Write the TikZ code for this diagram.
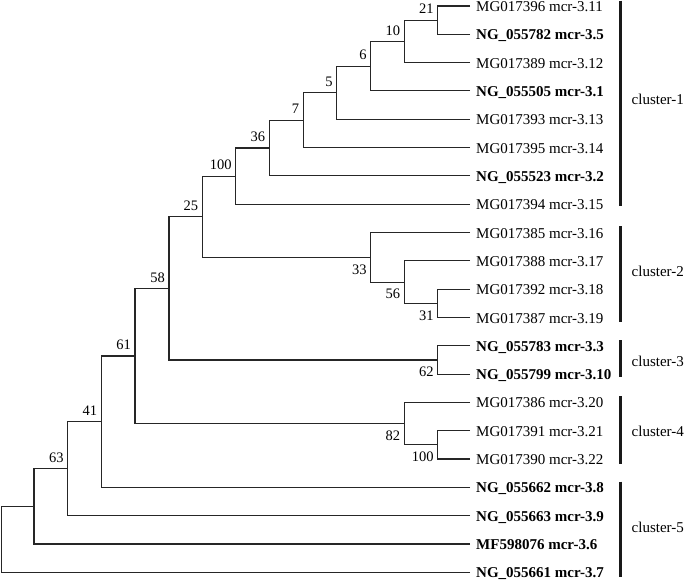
\documentclass[tikz,border=0pt]{standalone}
\usepackage{fontspec}
\setmainfont{Liberation Serif}
\begin{document}
\begin{tikzpicture}[x=1pt,y=-1pt,
  edge/.style={draw=black!85, line width=1.1pt},
  leaftext/.style={anchor=base west, inner sep=0pt, yshift=-5.5pt, font=\fontsize{15}{18}\selectfont},
  leafbold/.style={leaftext, font=\fontsize{15}{18}\selectfont\bfseries},
  bsabove/.style={anchor=base east, inner sep=0pt, xshift=-4pt, yshift=6.2pt, font=\fontsize{14.5}{17}\selectfont},
  bsbelow/.style={anchor=base east, inner sep=0pt, xshift=-4pt, yshift=-16.7pt, font=\fontsize{14.5}{17}\selectfont},
  clbar/.style={draw=black!90, line width=2.7pt},
  cltext/.style={anchor=base west, inner sep=0pt, font=\fontsize{15}{18}\selectfont}]
\useasboundingbox (0,0) rectangle (685,581);

% leaf ends
\coordinate (l1) at (470,6);
\coordinate (l2) at (470,34.3);
\coordinate (l3) at (470,62.6);
\coordinate (l4) at (470,90.9);
\coordinate (l5) at (470,119.3);
\coordinate (l6) at (470,147.6);
\coordinate (l7) at (470,175.9);
\coordinate (l8) at (470,204.2);
\coordinate (l9) at (470,232.5);
\coordinate (l10) at (470,260.8);
\coordinate (l11) at (470,289.2);
\coordinate (l12) at (470,317.5);
\coordinate (l13) at (470,345.8);
\coordinate (l14) at (470,374.1);
\coordinate (l15) at (470,402.4);
\coordinate (l16) at (470,430.7);
\coordinate (l17) at (470,459.0);
\coordinate (l18) at (470,487.4);
\coordinate (l19) at (470,515.7);
\coordinate (l20) at (470,544.0);
\coordinate (l21) at (470,572.3);

% leaf labels
\node[leaftext] (t1) at (476,6) {MG017396 mcr-3.11};
\node[leafbold] (t2) at (476,34.3) {NG\_055782 mcr-3.5};
\node[leaftext] (t3) at (476,62.6) {MG017389 mcr-3.12};
\node[leafbold] (t4) at (476,90.9) {NG\_055505 mcr-3.1};
\node[leaftext] (t5) at (476,119.3) {MG017393 mcr-3.13};
\node[leaftext] (t6) at (476,147.6) {MG017395 mcr-3.14};
\node[leafbold] (t7) at (476,175.9) {NG\_055523 mcr-3.2};
\node[leaftext] (t8) at (476,204.2) {MG017394 mcr-3.15};
\node[leaftext] (t9) at (476,232.5) {MG017385 mcr-3.16};
\node[leaftext] (t10) at (476,260.8) {MG017388 mcr-3.17};
\node[leaftext] (t11) at (476,289.2) {MG017392 mcr-3.18};
\node[leaftext] (t12) at (476,317.5) {MG017387 mcr-3.19};
\node[leafbold] (t13) at (476,345.8) {NG\_055783 mcr-3.3};
\node[leafbold] (t14) at (476,374.1) {NG\_055799 mcr-3.10};
\node[leaftext] (t15) at (476,402.4) {MG017386 mcr-3.20};
\node[leaftext] (t16) at (476,430.7) {MG017391 mcr-3.21};
\node[leaftext] (t17) at (476,459.0) {MG017390 mcr-3.22};
\node[leafbold] (t18) at (476,487.4) {NG\_055662 mcr-3.8};
\node[leafbold] (t19) at (476,515.7) {NG\_055663 mcr-3.9};
\node[leafbold] (t20) at (476,544.0) {MF598076 mcr-3.6};
\node[leafbold] (t21) at (476,572.3) {NG\_055661 mcr-3.7};

% internal nodes
\coordinate (n21) at (437.7,20.15);
\coordinate (n10) at (404.3,41.4);
\coordinate (n6) at (370.7,66.15);
\coordinate (n5) at (336.7,92.7);
\coordinate (n7) at (303.3,120.15);
\coordinate (n36) at (269.3,148.0);
\coordinate (n100a) at (235.7,176.1);
\coordinate (n31) at (437.7,303.35);
\coordinate (n56) at (404.3,282.1);
\coordinate (n33) at (370.7,257.3);
\coordinate (n25) at (202.3,216.7);
\coordinate (n62) at (437.7,359.95);
\coordinate (n58) at (169,288.3);
\coordinate (n100b) at (437.7,444.85);
\coordinate (n82) at (404.3,423.6);
\coordinate (n61) at (135,355.95);
\coordinate (n41) at (101.3,421.7);
\coordinate (n63) at (67.7,468.7);
\coordinate (nA) at (34,506.35);
\coordinate (root) at (1.7,539.3);

% edges
\draw[edge] (l1) -| (n21);
\draw[edge] (l2) -| (n21);
\draw[edge] (n21) -| (n10);
\draw[edge] (l3) -| (n10);
\draw[edge] (n10) -| (n6);
\draw[edge] (l4) -| (n6);
\draw[edge] (n6) -| (n5);
\draw[edge] (l5) -| (n5);
\draw[edge] (n5) -| (n7);
\draw[edge] (l6) -| (n7);
\draw[edge] (n7) -| (n36);
\draw[edge] (l7) -| (n36);
\draw[edge] (n36) -| (n100a);
\draw[edge] (l8) -| (n100a);
\draw[edge] (l11) -| (n31);
\draw[edge] (l12) -| (n31);
\draw[edge] (l10) -| (n56);
\draw[edge] (n31) -| (n56);
\draw[edge] (l9) -| (n33);
\draw[edge] (n56) -| (n33);
\draw[edge] (n100a) -| (n25);
\draw[edge] (n33) -| (n25);
\draw[edge] (l13) -| (n62);
\draw[edge] (l14) -| (n62);
\draw[edge] (n25) -| (n58);
\draw[edge] (n62) -| (n58);
\draw[edge] (l16) -| (n100b);
\draw[edge] (l17) -| (n100b);
\draw[edge] (l15) -| (n82);
\draw[edge] (n100b) -| (n82);
\draw[edge] (n58) -| (n61);
\draw[edge] (n82) -| (n61);
\draw[edge] (n61) -| (n41);
\draw[edge] (l18) -| (n41);
\draw[edge] (n41) -| (n63);
\draw[edge] (l19) -| (n63);
\draw[edge] (n63) -| (nA);
\draw[edge] (l20) -| (nA);
\draw[edge] (nA) -| (root);
\draw[edge] (l21) -| (root);

% bootstrap values
\node[bsabove] (b21) at (n21) {21};
\node[bsabove] (b10) at (n10) {10};
\node[bsabove] (b6) at (n6) {6};
\node[bsabove] (b5) at (n5) {5};
\node[bsabove] (b7) at (n7) {7};
\node[bsabove] (b36) at (n36) {36};
\node[bsabove] (b100a) at (n100a) {100};
\node[bsabove] (b25) at (n25) {25};
\node[bsabove] (b58) at (n58) {58};
\node[bsabove] (b61) at (n61) {61};
\node[bsabove] (b41) at (n41) {41};
\node[bsabove] (b63) at (n63) {63};
\node[bsbelow] (b33) at (n33) {33};
\node[bsbelow] (b56) at (n56) {56};
\node[bsbelow] (b31) at (n31) {31};
\node[bsbelow] (b62) at (n62) {62};
\node[bsbelow] (b82) at (n82) {82};
\node[bsbelow] (b100b) at (n100b) {100};

% cluster bars
\coordinate (c1a) at (620.7,0.5);
\coordinate (c1b) at (620.7,206);
\coordinate (c2a) at (620.7,226);
\coordinate (c2b) at (620.7,321.7);
\coordinate (c3a) at (620.7,340);
\coordinate (c3b) at (620.7,377.3);
\coordinate (c4a) at (620.7,396);
\coordinate (c4b) at (620.7,464.3);
\coordinate (c5a) at (620.7,481.7);
\coordinate (c5b) at (620.7,576.7);
\draw[clbar] (c1a) -- (c1b);
\draw[clbar] (c2a) -- (c2b);
\draw[clbar] (c3a) -- (c3b);
\draw[clbar] (c4a) -- (c4b);
\draw[clbar] (c5a) -- (c5b);
\node[cltext] (k1) at (631.5,104.3) {cluster-1};
\node[cltext] (k2) at (631.5,276) {cluster-2};
\node[cltext] (k3) at (631.5,366.7) {cluster-3};
\node[cltext] (k4) at (631.5,436.7) {cluster-4};
\node[cltext] (k5) at (631.5,532.3) {cluster-5};
\end{tikzpicture}
\end{document}
